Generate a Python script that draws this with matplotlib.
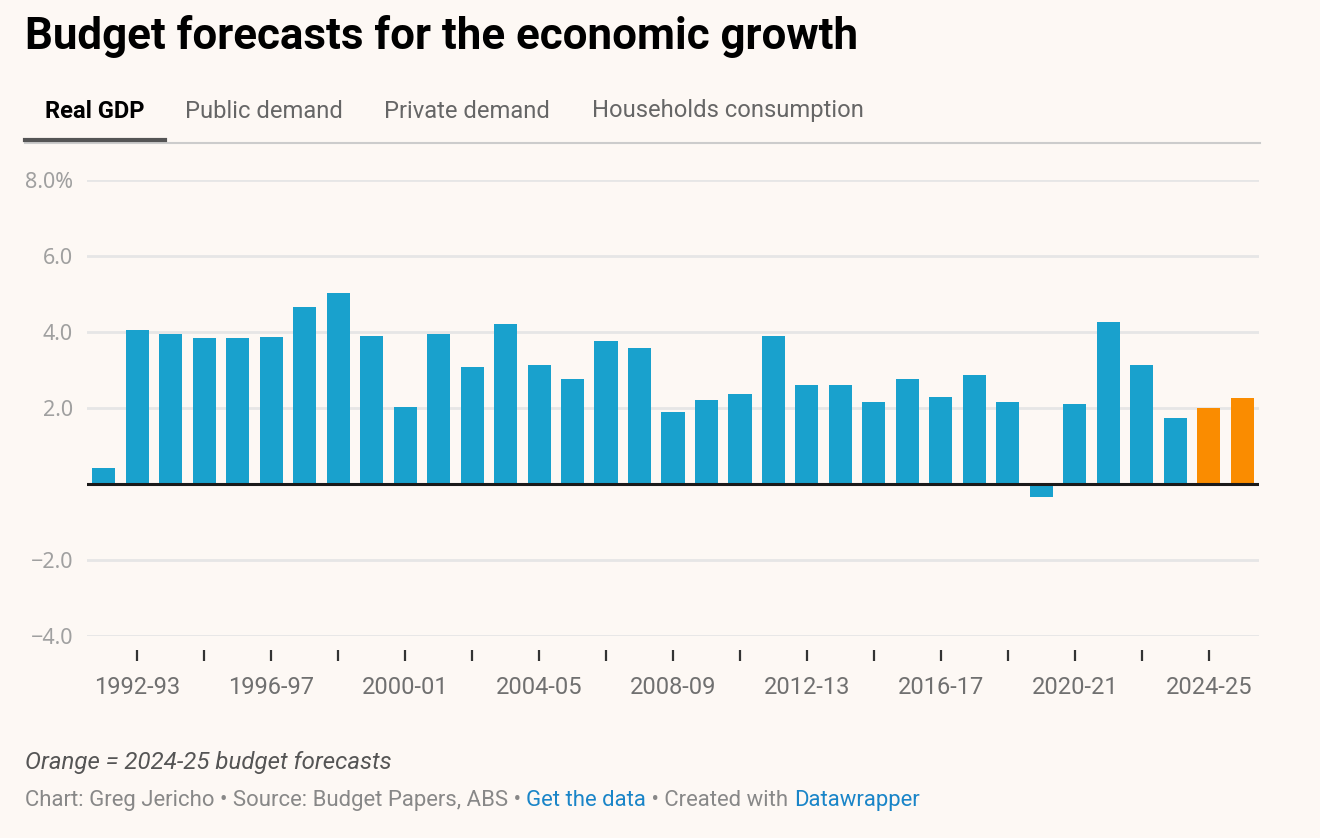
import matplotlib.pyplot as plt
from matplotlib.lines import Line2D

years = [
    "1991-92", "1992-93", "1993-94", "1994-95", "1995-96", "1996-97", "1997-98",
    "1998-99", "1999-00", "2000-01", "2001-02", "2002-03", "2003-04", "2004-05",
    "2005-06", "2006-07", "2007-08", "2008-09", "2009-10", "2010-11", "2011-12",
    "2012-13", "2013-14", "2014-15", "2015-16", "2016-17", "2017-18", "2018-19",
    "2019-20", "2020-21", "2021-22", "2022-23", "2023-24", "2024-25", "2025-26",
]
real_gdp = [
    0.42, 4.05, 3.95, 3.85, 3.83, 3.88, 4.65, 5.02, 3.9, 2.02, 3.95, 3.07, 4.2,
    3.12, 2.75, 3.75, 3.57, 1.9, 2.2, 2.38, 3.9, 2.6, 2.6, 2.17, 2.75, 2.3,
    2.88, 2.17, -0.33, 2.1, 4.25, 3.12, 1.73, 2.0, 2.25,
]
forecast_years = ["2024-25", "2025-26"]
y_ticks = [-4, -2, 0, 2, 4, 6, 8]
y_tick_labels = ["\u22124.0", "\u22122.0", "", "2.0", "4.0", "6.0", "8.0%"]
tabs = ["Real GDP", "Public demand", "Private demand", "Households consumption"]

BG = "#fdf8f4"
BLUE = "#19a1cd"
ORANGE = "#fa8c00"
W, H = 1320, 838


def fy(px):
    return 1 - px / H


def fx(px):
    return px / W


fig = plt.figure(figsize=(W / 100, H / 100), dpi=100, facecolor=BG)
ax = fig.add_axes([fx(87), fy(636), fx(1259) - fx(87), fy(180) - fy(636)])
ax.set_facecolor(BG)

x = list(range(len(years)))
colors = [ORANGE if y in forecast_years else BLUE for y in years]
ax.bar(x, real_gdp, width=0.69, color=colors, zorder=2)
ax.axhline(0, color="#1a1a1a", lw=2.2, zorder=3)

ax.set_xlim(-0.5, len(years) - 0.5)
ax.set_ylim(-4, 8)
for t in y_ticks:
    if t != 0:
        ax.axhline(t, color="#e6e6e6", lw=2, zorder=1)

# spines hidden, bottom one pushed down so the ticks sit below the plot
for s in ax.spines.values():
    s.set_visible(False)
ax.spines["bottom"].set_position(("outward", 10))

ax.set_yticks(y_ticks)
ax.set_yticklabels(y_tick_labels)
ax.tick_params(axis="y", length=0, pad=10, labelsize=15.5, labelcolor="#a0a0a0")
for lab in ax.get_yticklabels():
    lab.set_family("Noto Sans")

tick_pos = list(range(1, len(years) - 1, 2))
ax.set_xticks(tick_pos)
ax.set_xticklabels([years[i] if (i - 1) % 4 == 0 else "" for i in tick_pos])
ax.tick_params(axis="x", length=8, width=1.6, color="#333333", pad=11,
               labelsize=17, labelcolor="#707070")
for lab in ax.get_xticklabels():
    lab.set_family("Roboto")

fig.text(fx(25), fy(36), "Budget forecasts for the economic growth",
         family="Roboto", weight="bold", fontsize=31.6, color="#000000", va="center")

tab_x = [45, 185, 384, 592]
for i, (label, tx) in enumerate(zip(tabs, tab_x)):
    fig.text(fx(tx), fy(111), label, family="Roboto", fontsize=17.1,
             weight="bold" if i == 0 else "normal",
             color="#000000" if i == 0 else "#666666", va="center")
fig.add_artist(Line2D([fx(25), fx(1260)], [fy(142.5), fy(142.5)], color="#cccccc", lw=1.5))
fig.add_artist(Line2D([fx(25), fx(165)], [fy(140), fy(140)], color="#555555", lw=3))

fig.text(fx(25), fy(762), "Orange = 2024-25 budget forecasts", family="Roboto",
         style="italic", fontsize=17.3, color="#555555", va="center")

credit_parts = [
    ("Chart: Greg Jericho \u2022 Source: Budget Papers, ABS \u2022 ", "#888888"),
    ("Get the data", "#1a85c8"),
    (" \u2022 Created with ", "#888888"),
    ("Datawrapper", "#1a85c8"),
]
prev = fig.text(fx(25), fy(800), credit_parts[0][0], family="Roboto", fontsize=15.9,
                color=credit_parts[0][1], va="center")
# each following piece starts where the previous one ends
for txt, col in credit_parts[1:]:
    prev = ax.annotate(txt, xy=(1, 0.5), xycoords=prev, va="center", ha="left",
                       family="Roboto", fontsize=15.9, color=col, annotation_clip=False)

fig.savefig("out.png", dpi=100, facecolor=BG)
